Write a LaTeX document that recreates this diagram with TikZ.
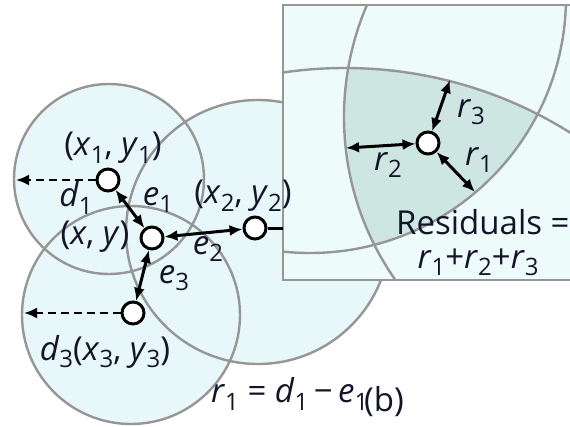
\documentclass[tikz,border=0pt]{standalone}
\usepackage{fontspec}
\setmainfont{Open Sans}
\usetikzlibrary{arrows.meta}
\definecolor{cfill}{RGB}{232,248,250}
\definecolor{bfill}{RGB}{238,251,251}
\definecolor{shadefill}{RGB}{205,230,226}
\definecolor{gline}{RGB}{150,150,150}
\definecolor{ink}{RGB}{20,20,40}
\newcommand\vsub[2]{\textit{#1}\raisebox{-0.22em}{\fontsize{24}{24}\selectfont #2}}
\begin{document}
\begin{tikzpicture}[x=1pt,y=-1pt,
  spot/.style={circle,draw=black,fill=white,line width=3pt,minimum size=22pt,inner sep=0pt},
  outline/.style={draw=gline,line width=2.4pt},
  dbl/.style={{Latex[length=13pt,width=11pt]}-{Latex[length=13pt,width=11pt]},line width=3pt},
  dsh/.style={-{Latex[length=13pt,width=11pt]},dash pattern=on 8pt off 5pt,line width=2.5pt},
  lbl/.style={text=ink,font=\fontsize{33}{36}\selectfont,inner sep=0pt}]
\useasboundingbox (0,0) rectangle (570,426);
% big circles
\fill[cfill] (109,179) circle[radius=95pt];
\fill[cfill] (258,232) circle[radius=132pt];
\fill[cfill] (131,315) circle[radius=109pt];
\draw[outline] (109,179) circle[radius=95pt];
\draw[outline] (258,232) circle[radius=132pt];
\draw[outline] (131,315) circle[radius=109pt];
% inset box
\fill[bfill] (283,5) rectangle (570,280);
\begin{scope}
  \clip (283,5) rectangle (570,280);
  \clip (345,492) circle[radius=424pt];
  \clip (628,117) circle[radius=284pt];
  \fill[shadefill] (310,-3) circle[radius=256pt];
\end{scope}
\begin{scope}
  \clip (283,5) rectangle (570,280);
  \draw[outline] (345,492) circle[radius=424pt];
  \draw[outline] (628,117) circle[radius=284pt];
  \draw[outline] (310,-3) circle[radius=256pt];
\end{scope}
\draw[outline] (570,5) -- (283,5) -- (283,280) -- (570,280);
\coordinate (boxin) at (283,228);
% nodes
\node[spot] (n1) at (108,180) {};
\node[spot] (n0) at (152,238) {};
\node[spot] (n2) at (255,228) {};
\node[spot] (n3) at (133,313) {};
\node[spot] (ni) at (428,143) {};
\coordinate (d1end) at (16,180);
\coordinate (d3end) at (24,313);
\coordinate (r1end) at (475,192);
\coordinate (r2end) at (346,148);
\coordinate (r3end) at (450,80);
% connectors
\draw[line width=3pt] (n2) -- (boxin);
\draw[dsh] (n1) -- (d1end);
\draw[dsh] (n3) -- (d3end);
\draw[dbl] (n1) -- (n0);
\draw[dbl] (n0) -- (n2);
\draw[dbl] (n0) -- (n3);
\draw[dbl] (ni) -- (r1end);
\draw[dbl] (ni) -- (r2end);
\draw[dbl] (ni) -- (r3end);
% labels
\node[lbl] (lx1) at (113,148) {(\vsub{x}{1}, \vsub{y}{1})};
\node[lbl] (ld1) at (76,198) {\vsub{d}{1}};
\node[lbl] (le1) at (158,200) {\vsub{e}{1}};
\node[lbl] (lxy) at (95,237) {(\textit{x}, \textit{y})};
\node[lbl] (lx2) at (243,196) {(\vsub{x}{2}, \vsub{y}{2})};
\node[lbl] (le2) at (208,249) {\vsub{e}{2}};
\node[lbl] (le3) at (174,278) {\vsub{e}{3}};
\node[lbl] (lx3) at (105,352) {\vsub{d}{3}(\vsub{x}{3}, \vsub{y}{3})};
\node[lbl,anchor=west] (lr1) at (211,394) {\vsub{r}{1} = \vsub{d}{1}\,\char"2212\,\vsub{e}{1}};
\node[lbl,anchor=west] (lb) at (364,402) {(b)};
\node[lbl] (ir3) at (471,112) {\vsub{r}{3}};
\node[lbl] (ir2) at (388,165) {\vsub{r}{2}};
\node[lbl] (ir1) at (479,160) {\vsub{r}{1}};
\node[lbl,anchor=west] (res) at (396,222) {Residuals =};
\node[lbl] (sum) at (478,262) {\vsub{r}{1}+\vsub{r}{2}+\vsub{r}{3}};
\end{tikzpicture}
\end{document}
